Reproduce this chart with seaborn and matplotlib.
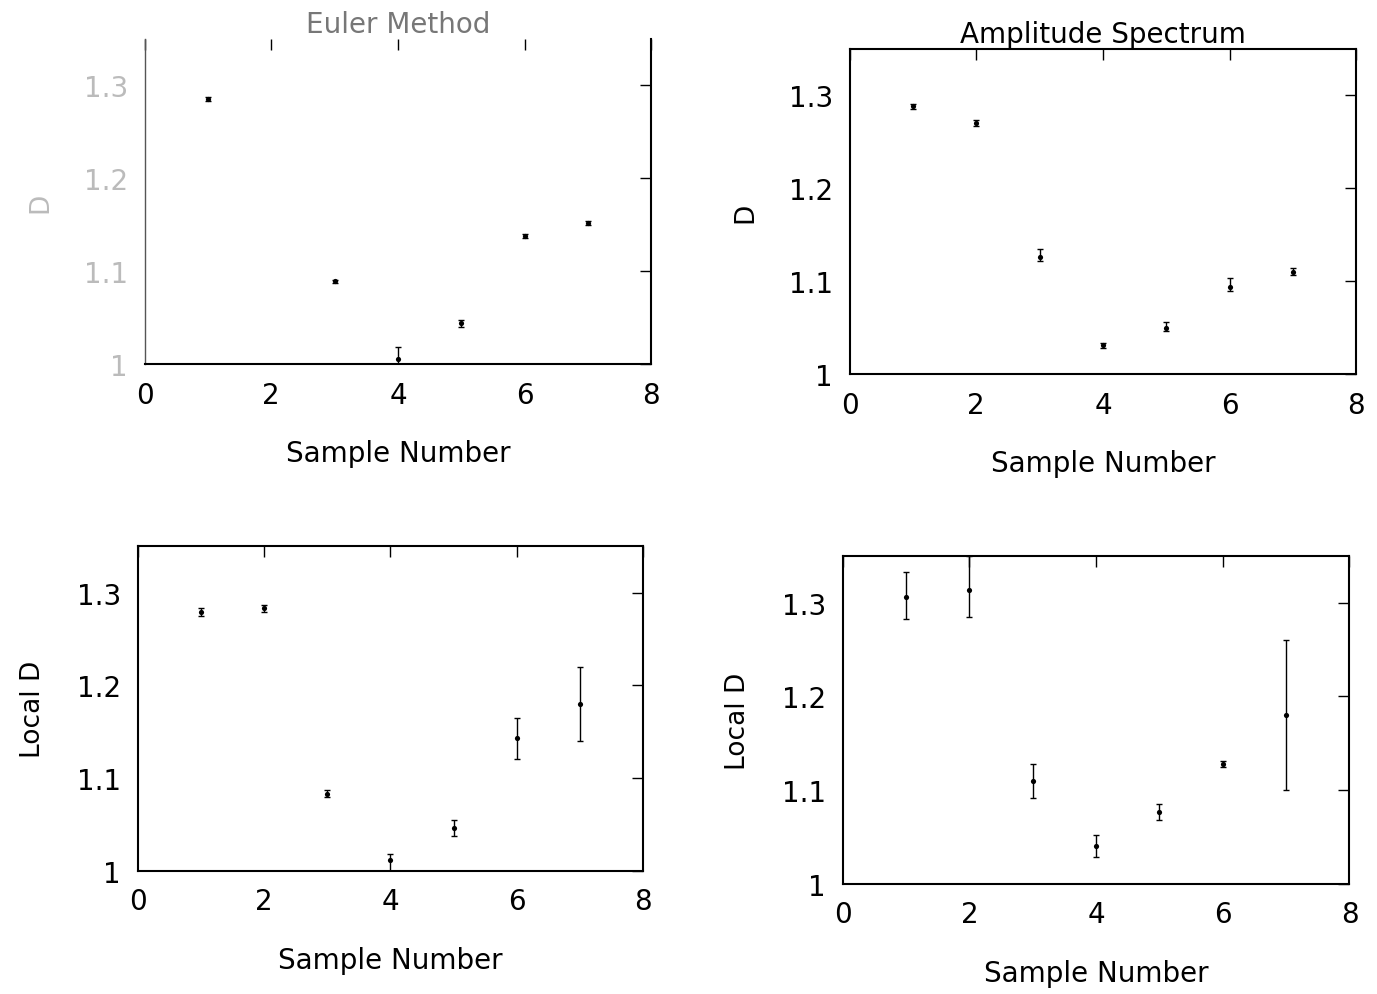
import matplotlib
matplotlib.use("Agg")
import matplotlib.pyplot as plt
import seaborn as sns
import numpy as np
import pandas as pd

sns.set_theme(style="white")
plt.rcParams['font.family'] = ['DejaVu Sans']

# ---- data ----
euler_x = [1, 3, 4, 5, 6, 7]
euler_d = [1.285, 1.089, 1.006, 1.044, 1.138, 1.152]
euler_lo = [0.002, 0.002, 0.006, 0.004, 0.002, 0.002]
euler_hi = [0.002, 0.002, 0.012, 0.004, 0.002, 0.002]

amp_x = [1, 2, 3, 4, 5, 6, 7]
amp_d = [1.288, 1.270, 1.126, 1.031, 1.050, 1.094, 1.110]
amp_lo = [0.003, 0.003, 0.004, 0.003, 0.004, 0.005, 0.003]
amp_hi = [0.003, 0.003, 0.009, 0.003, 0.006, 0.009, 0.004]

locl_x = [1, 2, 3, 4, 5, 6, 7]
locl_d = [1.279, 1.283, 1.083, 1.011, 1.046, 1.143, 1.180]
locl_lo = [0.004, 0.004, 0.004, 0.011, 0.009, 0.023, 0.040]
locl_hi = [0.004, 0.004, 0.004, 0.007, 0.009, 0.022, 0.040]

locr_x = [1, 2, 3, 4, 5, 6, 7]
locr_d = [1.306, 1.314, 1.110, 1.040, 1.076, 1.128, 1.180]
locr_lo = [0.023, 0.029, 0.018, 0.012, 0.008, 0.003, 0.080]
locr_hi = [0.027, 0.036, 0.018, 0.012, 0.009, 0.003, 0.080]

x_ticks = [0, 2, 4, 6, 8]
x_ticklabels = ["0", "2", "4", "6", "8"]
y_ticks = [1.0, 1.1, 1.2, 1.3]
y_ticklabels = ["1", "1.1", "1.2", "1.3"]

panels = [
    dict(x=euler_x, d=euler_d, lo=euler_lo, hi=euler_hi, title="Euler Method", ylabel="D",
         rect=[0.105, 0.633, 0.368, 0.327], faded=True),
    dict(x=amp_x, d=amp_d, lo=amp_lo, hi=amp_hi, title="Amplitude Spectrum", ylabel="D",
         rect=[0.617, 0.623, 0.368, 0.327], faded=False),
    dict(x=locl_x, d=locl_d, lo=locl_lo, hi=locl_hi, title="", ylabel="Local D",
         rect=[0.100, 0.124, 0.367, 0.326], faded=False),
    dict(x=locr_x, d=locr_d, lo=locr_lo, hi=locr_hi, title="", ylabel="Local D",
         rect=[0.612, 0.111, 0.368, 0.329], faded=False),
]

fig = plt.figure(figsize=(13.77, 9.95), dpi=100)

for p in panels:
    ax = fig.add_axes(p["rect"])
    df = pd.DataFrame({"Sample": p["x"], "D": p["d"]})
    tcol = "#bbbbbb" if p["faded"] else "black"
    ax.errorbar(p["x"], p["d"], yerr=[p["lo"], p["hi"]], fmt="none",
                ecolor="black", elinewidth=1.0, capsize=2.5, capthick=1.0)
    sns.scatterplot(data=df, x="Sample", y="D", ax=ax, color="black", s=14,
                    marker="o", edgecolor="black", linewidth=0)
    ax.set_xlim(0, 8)
    ax.set_ylim(1.0, 1.35)
    ax.set_xticks(x_ticks)
    ax.set_xticklabels(x_ticklabels)
    ax.set_yticks(y_ticks)
    ax.set_yticklabels(y_ticklabels)
    ax.tick_params(direction="in", top=True, right=True, length=8, width=1.0,
                   labelsize=20, pad=12, colors="black")
    for lab in ax.get_yticklabels():
        lab.set_color(tcol)
    for sp in ax.spines.values():
        sp.set_color("black")
        sp.set_linewidth(1.5)
    if p["faded"]:
        ax.spines["top"].set_visible(False)
        ax.spines["left"].set_color("#555555")
        ax.spines["left"].set_linewidth(1.0)
    ax.set_xlabel("Sample Number", fontsize=20, labelpad=22, color="black")
    ax.set_ylabel(p["ylabel"], fontsize=19, labelpad=22, color=tcol)
    if p["title"]:
        ax.set_title(p["title"], fontsize=20, pad=5,
                     color="#777777" if p["faded"] else "black")

fig.savefig("out.png", dpi=100, facecolor="white")
